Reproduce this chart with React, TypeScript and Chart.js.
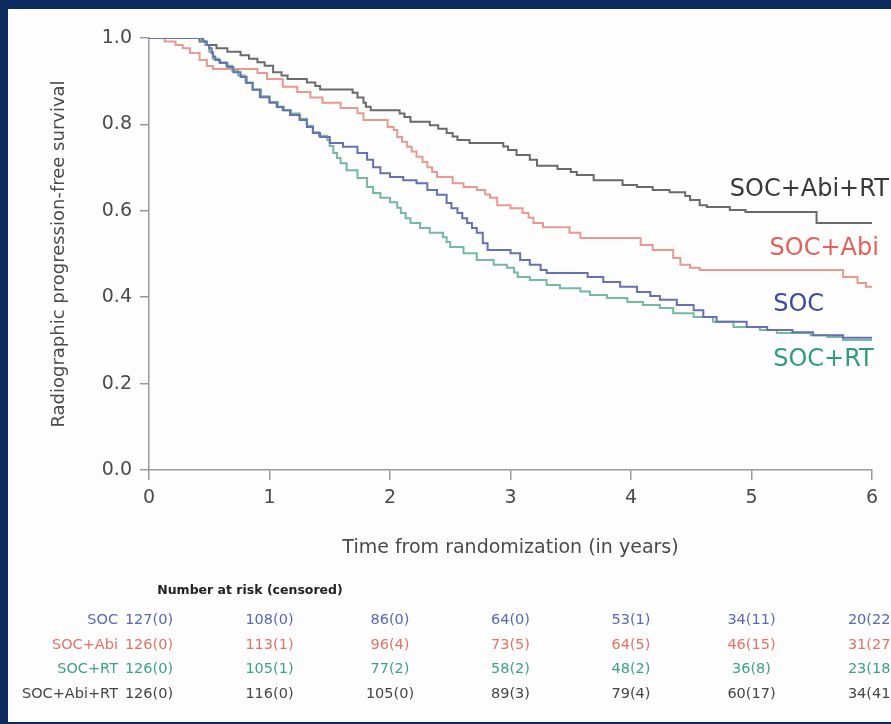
import React, { useEffect, useRef } from "react";
import { Chart, registerables } from "chart.js";
Chart.register(...registerables);

// ---------- DATA ----------
const seriesNames = ["SOC", "SOC+Abi", "SOC+RT", "SOC+Abi+RT"];
const xTickValues = [0, 1, 2, 3, 4, 5, 6];
const yTickValues = [0, 0.2, 0.4, 0.6, 0.8, 1.0];

// Kaplan-Meier step points (time in years, survival after the step)
const socAbiRtT = [0, 0.42, 0.47, 0.56, 0.65, 0.76, 0.83, 0.9, 0.96, 1.03, 1.1, 1.15, 1.31, 1.38, 1.42, 1.69, 1.73, 1.78, 1.8, 1.84, 2.08, 2.12, 2.17, 2.33, 2.4, 2.47, 2.52, 2.56, 2.66, 2.94, 2.98, 3.05, 3.16, 3.22, 3.39, 3.5, 3.55, 3.69, 3.93, 4.05, 4.18, 4.32, 4.45, 4.49, 4.57, 4.63, 4.82, 4.95, 5.54, 6.0];
const socAbiRtS = [1, 0.992, 0.984, 0.976, 0.968, 0.96, 0.952, 0.944, 0.936, 0.921, 0.913, 0.905, 0.897, 0.889, 0.881, 0.873, 0.862, 0.85, 0.841, 0.833, 0.825, 0.817, 0.806, 0.798, 0.79, 0.78, 0.772, 0.764, 0.757, 0.749, 0.741, 0.729, 0.718, 0.704, 0.697, 0.69, 0.683, 0.671, 0.66, 0.655, 0.648, 0.643, 0.634, 0.625, 0.613, 0.609, 0.602, 0.597, 0.572, 0.572];

const socAbiT = [0, 0.13, 0.22, 0.28, 0.34, 0.42, 0.48, 0.53, 0.9, 0.98, 1.11, 1.23, 1.34, 1.44, 1.59, 1.73, 1.78, 1.98, 2.03, 2.06, 2.1, 2.14, 2.18, 2.22, 2.27, 2.31, 2.35, 2.39, 2.52, 2.61, 2.72, 2.79, 2.83, 2.89, 3.0, 3.1, 3.15, 3.19, 3.27, 3.49, 3.58, 4.08, 4.18, 4.35, 4.41, 4.49, 4.57, 5.76, 5.88, 5.95, 6.0];
const socAbiS = [1, 0.992, 0.984, 0.976, 0.965, 0.949, 0.935, 0.928, 0.919, 0.905, 0.887, 0.875, 0.862, 0.85, 0.838, 0.826, 0.81, 0.794, 0.787, 0.771, 0.76, 0.748, 0.737, 0.725, 0.713, 0.701, 0.69, 0.678, 0.664, 0.655, 0.648, 0.638, 0.63, 0.613, 0.606, 0.595, 0.584, 0.572, 0.562, 0.549, 0.537, 0.521, 0.509, 0.491, 0.475, 0.468, 0.463, 0.447, 0.433, 0.424, 0.424];

const socT = [0, 0.4, 0.45, 0.48, 0.5, 0.52, 0.53, 0.55, 0.59, 0.65, 0.7, 0.76, 0.81, 0.86, 0.92, 1.0, 1.06, 1.11, 1.17, 1.25, 1.31, 1.36, 1.42, 1.5, 1.61, 1.73, 1.81, 1.86, 1.92, 2.0, 2.11, 2.22, 2.31, 2.39, 2.47, 2.51, 2.56, 2.6, 2.64, 2.68, 2.72, 2.77, 2.81, 3.0, 3.08, 3.16, 3.25, 3.3, 3.64, 3.77, 3.91, 4.05, 4.16, 4.24, 4.38, 4.52, 4.6, 4.71, 4.96, 5.13, 5.34, 5.51, 5.76, 6.0];
const socS = [1, 1, 0.992, 0.984, 0.976, 0.965, 0.957, 0.949, 0.942, 0.933, 0.921, 0.91, 0.896, 0.88, 0.863, 0.85, 0.84, 0.833, 0.822, 0.81, 0.794, 0.78, 0.771, 0.757, 0.748, 0.734, 0.718, 0.701, 0.687, 0.678, 0.671, 0.664, 0.648, 0.637, 0.618, 0.606, 0.595, 0.583, 0.572, 0.56, 0.549, 0.525, 0.509, 0.502, 0.486, 0.475, 0.463, 0.456, 0.447, 0.435, 0.424, 0.412, 0.403, 0.394, 0.382, 0.37, 0.354, 0.343, 0.331, 0.324, 0.319, 0.312, 0.306, 0.306];

const socRtT = [0, 0.4, 0.44, 0.47, 0.5, 0.53, 0.58, 0.64, 0.69, 0.74, 0.8, 0.86, 0.93, 1.0, 1.07, 1.12, 1.18, 1.25, 1.31, 1.36, 1.41, 1.48, 1.5, 1.53, 1.56, 1.59, 1.64, 1.73, 1.81, 1.86, 1.92, 2.0, 2.06, 2.09, 2.13, 2.17, 2.25, 2.33, 2.44, 2.47, 2.5, 2.61, 2.72, 2.86, 2.97, 3.03, 3.06, 3.16, 3.3, 3.41, 3.58, 3.66, 3.8, 3.97, 4.1, 4.24, 4.35, 4.52, 4.68, 4.85, 5.07, 5.21, 5.49, 5.63, 5.76, 6.0];
const socRtS = [1, 1, 0.992, 0.984, 0.968, 0.952, 0.944, 0.936, 0.925, 0.913, 0.897, 0.881, 0.865, 0.852, 0.841, 0.833, 0.825, 0.813, 0.797, 0.782, 0.774, 0.764, 0.75, 0.734, 0.722, 0.71, 0.694, 0.676, 0.655, 0.641, 0.63, 0.62, 0.607, 0.595, 0.583, 0.572, 0.56, 0.549, 0.539, 0.528, 0.516, 0.502, 0.486, 0.475, 0.468, 0.457, 0.447, 0.44, 0.428, 0.421, 0.413, 0.405, 0.398, 0.389, 0.382, 0.375, 0.363, 0.354, 0.343, 0.331, 0.324, 0.317, 0.312, 0.308, 0.301, 0.301];

// Number at risk (censored) at years 0..6
const socRisk = [127, 108, 86, 64, 53, 34, 20];
const socCens = [0, 0, 0, 0, 1, 11, 22];
const socAbiRisk = [126, 113, 96, 73, 64, 46, 31];
const socAbiCens = [0, 1, 4, 5, 5, 15, 27];
const socRtRisk = [126, 105, 77, 58, 48, 36, 23];
const socRtCens = [0, 1, 2, 2, 2, 8, 18];
const socAbiRtRisk = [126, 116, 105, 89, 79, 60, 34];
const socAbiRtCens = [0, 0, 0, 3, 4, 17, 41];

// Curve-end labels (anchored in data coordinates)
const curveLabelText = ["SOC+Abi+RT", "SOC+Abi", "SOC", "SOC+RT"];
const curveLabelX = [4.82, 5.15, 5.18, 5.18];
const curveLabelY = [0.648, 0.512, 0.382, 0.255];

// ---------- STYLE ----------
const FONT = "'DejaVu Sans', sans-serif";
const lineColors: Record<string, string> = {
  "SOC": "#6670b2",
  "SOC+Abi": "#e89a90",
  "SOC+RT": "#74b9a0",
  "SOC+Abi+RT": "#6a6a6a",
};
const textColors: Record<string, string> = {
  "SOC": "#3d4a9e",
  "SOC+Abi": "#e0605a",
  "SOC+RT": "#2f9e78",
  "SOC+Abi+RT": "#383838",
};
const tableColors: Record<string, string> = {
  "SOC": "#5b66b6",
  "SOC+Abi": "#e27464",
  "SOC+RT": "#3fa27f",
  "SOC+Abi+RT": "#454545",
};

const pts = (t: number[], s: number[]) => t.map((v, i) => ({ x: v, y: s[i] }));

const annotationPlugin = {
  id: "kmExtras",
  afterDraw(chart: any) {
    const { ctx } = chart;
    const xs = chart.scales.x;
    const ys = chart.scales.y;
    ctx.save();
    // curve labels
    ctx.font = `24px ${FONT}`;
    ctx.textAlign = "left";
    ctx.textBaseline = "middle";
    curveLabelText.forEach((txt, i) => {
      ctx.fillStyle = textColors[txt];
      ctx.fillText(txt, xs.getPixelForValue(curveLabelX[i]), ys.getPixelForValue(curveLabelY[i]));
    });
    // number at risk table
    ctx.font = `bold 12.5px ${FONT}`;
    ctx.fillStyle = "#222";
    ctx.textAlign = "center";
    ctx.fillText("Number at risk (censored)", 250, 591);
    const rows = [
      ["SOC", socRisk, socCens],
      ["SOC+Abi", socAbiRisk, socAbiCens],
      ["SOC+RT", socRtRisk, socRtCens],
      ["SOC+Abi+RT", socAbiRtRisk, socAbiRtCens],
    ] as [string, number[], number[]][];
    const rowY = [620, 645, 669, 694];
    ctx.font = `14.5px ${FONT}`;
    rows.forEach(([name, risk, cens], r) => {
      ctx.fillStyle = tableColors[name];
      ctx.textAlign = "right";
      ctx.fillText(name, 118, rowY[r]);
      ctx.textAlign = "center";
      xTickValues.forEach((t, i) => {
        ctx.fillText(`${risk[i]}(${cens[i]})`, xs.getPixelForValue(t), rowY[r]);
      });
    });
    ctx.restore();
  },
};

export default function App() {
  const ref = useRef<HTMLCanvasElement | null>(null);
  useEffect(() => {
    if (!ref.current) return;
    const axisColor = "#9a9a9a";
    const chart = new Chart(ref.current, {
      type: "line",
      data: {
        datasets: [
          { label: "SOC", data: pts(socT, socS) },
          { label: "SOC+RT", data: pts(socRtT, socRtS) },
          { label: "SOC+Abi", data: pts(socAbiT, socAbiS) },
          { label: "SOC+Abi+RT", data: pts(socAbiRtT, socAbiRtS) },
        ].map((d) => ({
          ...d,
          borderColor: lineColors[d.label],
          borderWidth: 2,
          pointRadius: 0,
          stepped: "before" as const,
          fill: false,
        })),
      },
      options: {
        animation: false,
        responsive: false,
        devicePixelRatio: 1,
        layout: { padding: { left: 0, top: 38, right: 19, bottom: 154 } },
        plugins: { legend: { display: false }, tooltip: { enabled: false } },
        scales: {
          x: {
            type: "linear",
            min: 0,
            max: 6,
            afterFit: (s: any) => { s.height = 100; },
            afterBuildTicks: (s: any) => { s.ticks = xTickValues.map((v) => ({ value: v })); },
            ticks: { color: "#4a4a4a", font: { family: FONT, size: 19 }, padding: 7, maxRotation: 0 },
            grid: { display: true, drawOnChartArea: false, drawTicks: true, tickLength: 10, color: axisColor, lineWidth: 1.5 },
            border: { display: true, color: axisColor, width: 1.5 },
            title: { display: true, text: "Time from randomization (in years)", color: "#4a4a4a", font: { family: FONT, size: 19 }, padding: { top: 0, bottom: 11 } },
          },
          y: {
            type: "linear",
            min: 0,
            max: 1,
            afterFit: (s: any) => { s.width = 149; },
            afterBuildTicks: (s: any) => { s.ticks = yTickValues.map((v) => ({ value: v })); },
            ticks: { color: "#4a4a4a", font: { family: FONT, size: 19 }, padding: 8, callback: (v: any) => Number(v).toFixed(1) },
            grid: { display: true, drawOnChartArea: false, drawTicks: true, tickLength: 9, color: axisColor, lineWidth: 1.5 },
            border: { display: true, color: axisColor, width: 1.5 },
            title: { display: true, text: "Radiographic progression-free survival", color: "#4a4a4a", font: { family: FONT, size: 18 }, padding: { top: 49, bottom: 0 } },
          },
        },
      },
      plugins: [annotationPlugin],
    });
    return () => chart.destroy();
  }, []);

  return (
    <div style={{ position: "fixed", left: 0, top: 0, width: 891, height: 724, background: "#0b2a5e", overflow: "hidden" }}>
      <div style={{ position: "absolute", left: 8, top: 9, right: 0, bottom: 2, background: "#fdfdfd" }} />
      <canvas ref={ref} width={891} height={724} style={{ position: "absolute", left: 0, top: 0, width: 891, height: 724, display: "block" }} />
    </div>
  );
}
